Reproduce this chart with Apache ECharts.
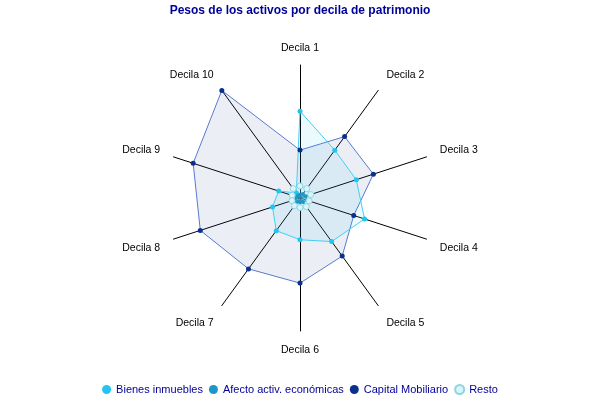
<!DOCTYPE html>
<html>
<head>
<meta charset="utf-8">
<script src="https://cdn.jsdelivr.net/npm/echarts@6/dist/echarts.min.js"></script>
<style>html,body{margin:0;padding:0;background:#fff}#c{width:600px;height:400px}</style>
</head>
<body>
<div id="c"></div>
<script>
const categories = ['Decila 1','Decila 2','Decila 3','Decila 4','Decila 5','Decila 6','Decila 7','Decila 8','Decila 9','Decila 10'];
const bienesInmuebles = [55.5, 37.8, 37.8, 43.4, 34.4, 26.7, 25.8, 18.5, 14.3, 4];
const afectoActiv = [2, 3.2, 3.8, 5, 3.2, 2.5, 3.2, 3.8, 2.5, 2];
const capitalMobiliario = [30.6, 48.5, 49.3, 36.1, 45.9, 54.4, 56, 67, 71.8, 85];
const resto = [7.7, 7.4, 7.2, 6.1, 6.8, 6.1, 6.1, 5.4, 5.3, 7.4];
const axisMax = 85;

// ECharts radar runs counter-clockwise; reorder so deciles run clockwise from the top
const order = [0,9,8,7,6,5,4,3,2,1];
const ro = arr => order.map(i => arr[i]);

// label nudges: diagonal labels sit a little further out vertically
const labelKey = ['top','up','mid','down','down2','bot','down2','down','mid','up'];
const base = {color: '#000', fontFamily: 'Liberation Sans', fontSize: 10.5};

const chart = echarts.init(document.getElementById('c'));
chart.setOption({
  animation: false,
  title: {
    text: 'Pesos de los activos por decila de patrimonio',
    left: 'center', top: 0,
    textStyle: {fontFamily: 'Liberation Sans', fontSize: 12, fontWeight: 'bold', color: '#000099'}
  },
  legend: {
    bottom: 0, left: 'center',
    icon: 'circle', itemWidth: 9, itemHeight: 9, itemGap: 6,
    textStyle: {fontFamily: 'Liberation Sans', fontSize: 11, color: '#000099'},
    data: ['Bienes inmuebles','Afecto activ. económicas','Capital Mobiliario','Resto']
  },
  radar: {
    center: [300, 198],
    radius: 133,
    startAngle: 90,
    indicator: ro(categories).map(n => ({name: n, max: axisMax})),
    axisName: {
      ...base,
      formatter: (name) => '{' + labelKey[categories.indexOf(name)] + '|' + name + '}',
      rich: {
        top: {...base, padding: [0,0,-3,0]},
        bot: {...base, padding: [0,0,0,0]},
        up: {...base, padding: [0,0,8,0]},
        mid: {...base, padding: [0,0,4,0]},
        down: {...base, padding: [10,0,0,0]},
        down2: {...base, padding: [12,0,0,0]}
      }
    },
    nameGap: 14,
    axisLine: {lineStyle: {color: '#000', width: 1}},
    splitLine: {show: false},
    splitArea: {show: false},
    axisTick: {show: false},
    axisLabel: {show: false}
  },
  series: [{
    type: 'radar',
    data: [
      {
        name: 'Capital Mobiliario', value: ro(capitalMobiliario),
        symbol: 'circle', symbolSize: 5,
        itemStyle: {color: '#0a2f8f'},
        lineStyle: {color: '#5a7ed0', width: 1},
        areaStyle: {color: 'rgba(40,60,150,0.12)'}
      },
      {
        name: 'Bienes inmuebles', value: ro(bienesInmuebles),
        symbol: 'circle', symbolSize: 5,
        itemStyle: {color: '#22c4f0'},
        lineStyle: {color: '#40d0f2', width: 1},
        areaStyle: {color: 'rgba(40,200,240,0.13)'}
      },
      {
        name: 'Afecto activ. económicas', value: ro(afectoActiv),
        symbol: 'circle', symbolSize: 4,
        itemStyle: {color: '#1b98c8'},
        lineStyle: {color: '#1b98c8', width: 1},
        areaStyle: {color: 'rgba(27,152,200,0.8)'}
      },
      {
        name: 'Resto', value: ro(resto),
        symbol: 'circle', symbolSize: 6,
        itemStyle: {color: '#d8f6fa', borderColor: '#8fd4e4', borderWidth: 1},
        lineStyle: {color: '#a8e4f0', width: 1},
        areaStyle: {color: 'rgba(200,240,250,0.3)'}
      }
    ]
  }]
});
</script>
</body>
</html>
